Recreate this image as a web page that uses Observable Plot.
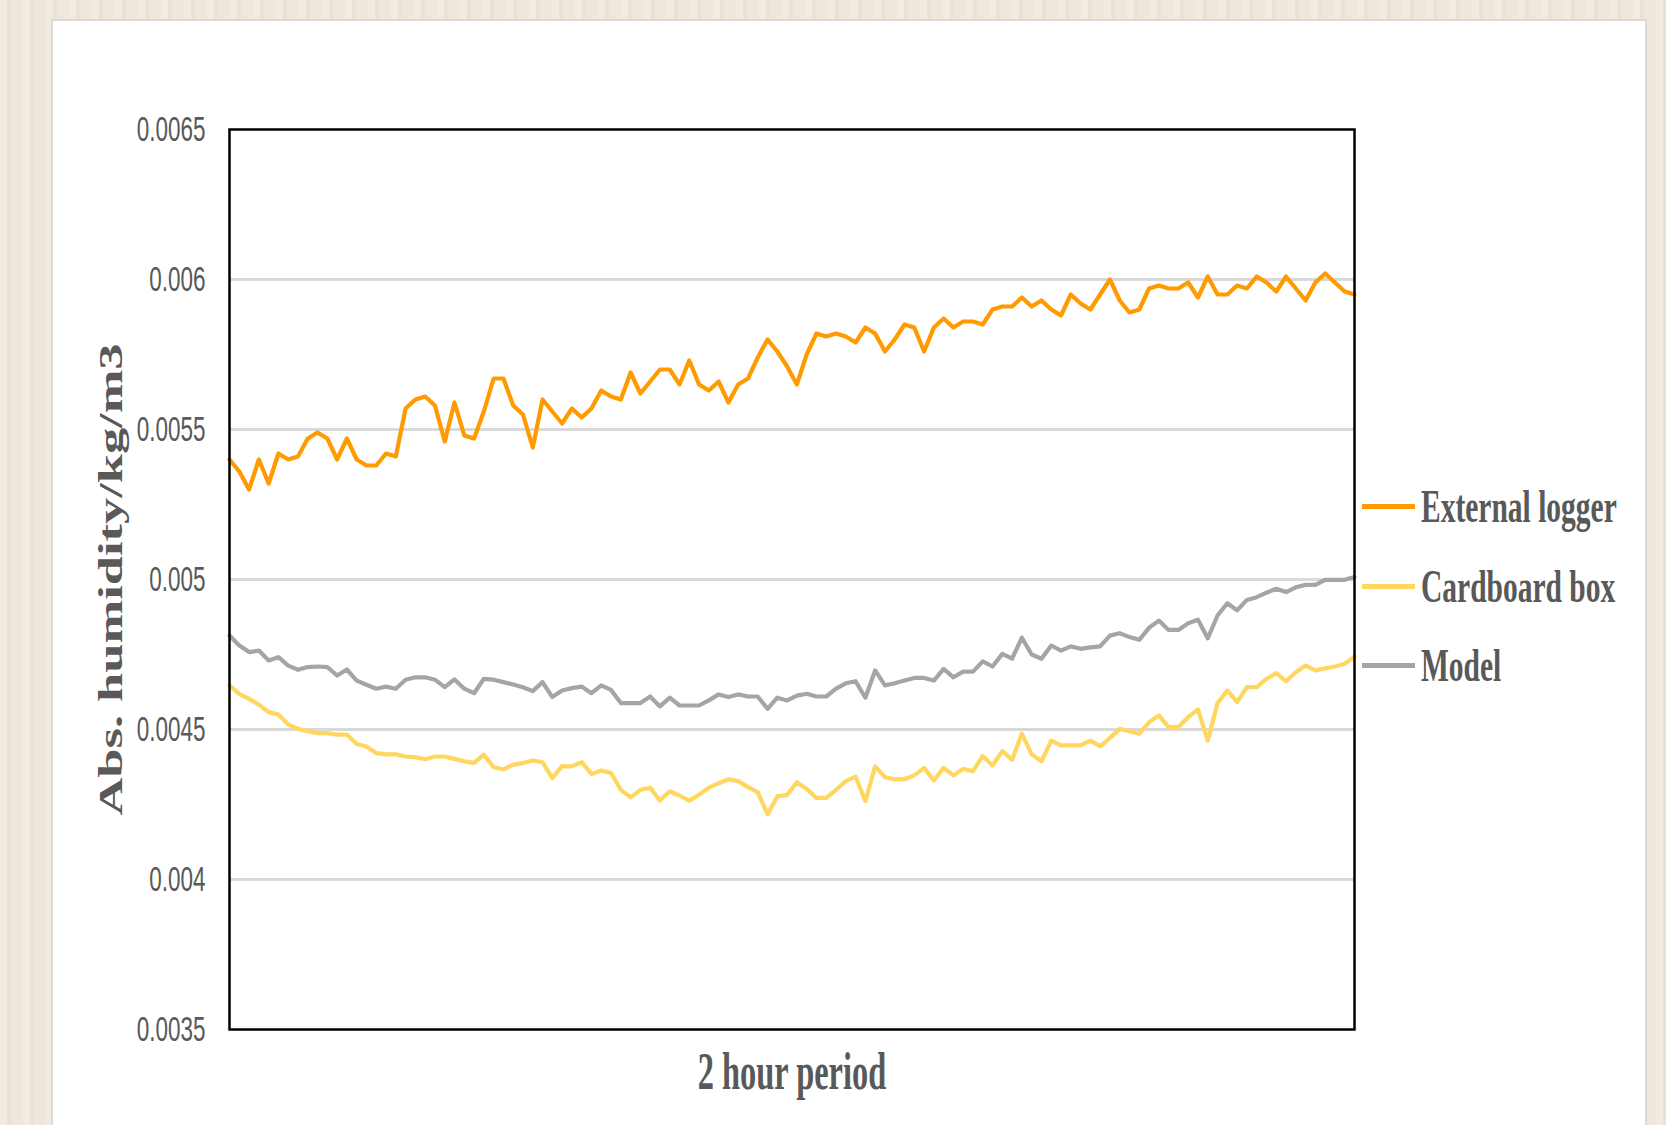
<!DOCTYPE html>
<html>
<head>
<meta charset="utf-8">
<script src="https://cdn.jsdelivr.net/npm/d3@7"></script>
<script src="https://cdn.jsdelivr.net/npm/@observablehq/plot@0.6"></script>
<style>
  html, body { margin: 0; padding: 0; }
  body {
    width: 1666px; height: 1125px; overflow: hidden; position: relative;
    background: #efe7dc;
    background-image:
      repeating-linear-gradient(90deg, rgba(255,255,255,0.18) 0px, rgba(255,255,255,0.18) 7px, rgba(190,180,168,0.10) 7px, rgba(190,180,168,0.10) 11px, rgba(255,255,255,0) 11px, rgba(255,255,255,0) 23px);
  }
  #panel {
    position: absolute; left: 51px; top: 19px; width: 1592px; height: 1120px;
    background: #ffffff; border: 2px solid #dadada;
  }
  #chart { position: absolute; left: 0; top: 0; }
  #legend {
    position: absolute; left: 1362px; top: 467px;
    font-family: "Liberation Serif", "Times New Roman", serif; font-weight: bold;
    font-size: 29.5px; color: #595959;
  }
  .row { display: flex; align-items: center; height: 79.5px; }
  .sw { width: 53px; height: 5px; margin-right: 6px; }
  .lb { display: inline-block; transform: scaleY(1.6); transform-origin: 50% 50%; white-space: nowrap; }
</style>
</head>
<body>
<div id="panel"></div>
<div id="chart"></div>
<div id="legend"></div>
<script>
// ---- data ----
const seriesNames = ["External logger", "Cardboard box", "Model"];
const seriesColors = ["#FF9A00", "#FFD75E", "#A5A5A5"];

const externalLogger = [
0.00540,0.00536,0.00530,0.00540,0.00532,0.00542,0.00540,0.00541,0.00547,0.00549,
0.00547,0.00540,0.00547,0.00540,0.00538,0.00538,0.00542,0.00541,0.00557,0.00560,
0.00561,0.00558,0.00546,0.00559,0.00548,0.00547,0.00556,0.00567,0.00567,0.00558,
0.00555,0.00544,0.00560,0.00556,0.00552,0.00557,0.00554,0.00557,0.00563,0.00561,
0.00560,0.00569,0.00562,0.00566,0.00570,0.00570,0.00565,0.00573,0.00565,0.00563,
0.00566,0.00559,0.00565,0.00567,0.00574,0.00580,0.00576,0.00571,0.00565,0.00575,
0.00582,0.00581,0.00582,0.00581,0.00579,0.00584,0.00582,0.00576,0.00580,0.00585,
0.00584,0.00576,0.00584,0.00587,0.00584,0.00586,0.00586,0.00585,0.00590,0.00591,
0.00591,0.00594,0.00591,0.00593,0.00590,0.00588,0.00595,0.00592,0.00590,0.00595,
0.00600,0.00593,0.00589,0.00590,0.00597,0.00598,0.00597,0.00597,0.00599,0.00594,
0.00601,0.00595,0.00595,0.00598,0.00597,0.00601,0.00599,0.00596,0.00601,0.00597,
0.00593,0.00599,0.00602,0.00599,0.00596,0.00595];

const cardboardBox = [
0.004647,0.004619,0.004602,0.004583,0.004558,0.004550,0.004517,0.004502,0.004494,0.004488,
0.004488,0.004483,0.004483,0.004452,0.004443,0.004421,0.004417,0.004417,0.004410,0.004408,
0.004401,0.004410,0.004410,0.004402,0.004394,0.004389,0.004416,0.004374,0.004367,0.004383,
0.004388,0.004397,0.004391,0.004338,0.004378,0.004377,0.004391,0.004352,0.004363,0.004355,
0.004299,0.004274,0.004299,0.004306,0.004263,0.004294,0.004280,0.004263,0.004283,0.004306,
0.004321,0.004334,0.004328,0.004308,0.004291,0.004217,0.004277,0.004282,0.004324,0.004302,
0.004272,0.004272,0.004299,0.004328,0.004343,0.004261,0.004377,0.004341,0.004334,0.004334,
0.004347,0.004372,0.004330,0.004372,0.004347,0.004369,0.004361,0.004412,0.004380,0.004428,
0.004399,0.004486,0.004417,0.004394,0.004463,0.004447,0.004447,0.004447,0.004463,0.004444,
0.004472,0.004502,0.004494,0.004486,0.004524,0.004547,0.004508,0.004508,0.004541,0.004567,
0.004463,0.004588,0.004630,0.004591,0.004641,0.004641,0.004669,0.004688,0.004661,0.004691,
0.004713,0.004697,0.004704,0.004710,0.004719,0.004743];

const model = [
0.004813,0.004780,0.004758,0.004763,0.004730,0.004741,0.004713,0.004699,0.004708,0.004710,
0.004708,0.004680,0.004700,0.004663,0.004649,0.004636,0.004643,0.004636,0.004666,0.004674,
0.004674,0.004666,0.004641,0.004667,0.004636,0.004621,0.004669,0.004666,0.004658,0.004650,
0.004641,0.004628,0.004658,0.004608,0.004630,0.004638,0.004643,0.004621,0.004647,0.004632,
0.004588,0.004588,0.004588,0.004610,0.004577,0.004606,0.004580,0.004580,0.004580,0.004597,
0.004617,0.004608,0.004617,0.004610,0.004610,0.004569,0.004606,0.004597,0.004613,0.004619,
0.004610,0.004610,0.004636,0.004654,0.004661,0.004606,0.004697,0.004647,0.004654,0.004663,
0.004672,0.004672,0.004663,0.004702,0.004674,0.004693,0.004693,0.004727,0.004710,0.004752,
0.004736,0.004806,0.004750,0.004736,0.004780,0.004763,0.004777,0.004769,0.004774,0.004777,
0.004813,0.004821,0.004808,0.004799,0.004839,0.004863,0.004832,0.004832,0.004854,0.004866,
0.004804,0.004880,0.004921,0.004897,0.004932,0.004941,0.004956,0.004969,0.004958,0.004974,
0.004982,0.004982,0.004999,0.004999,0.004999,0.005008];

const yTicks = [0.0035, 0.004, 0.0045, 0.005, 0.0055, 0.006, 0.0065];
const yTickLabels = ["0.0035", "0.004", "0.0045", "0.005", "0.0055", "0.006", "0.0065"];
const gridTicks = [0.004, 0.0045, 0.005, 0.0055, 0.006];
const yTitle = "Abs. humidity/kg/m3";
const xTitle = "2 hour period";

// ---- table for the library ----
const seriesValues = [externalLogger, cardboardBox, model];
const rows = [];
seriesNames.forEach((name, s) => {
  seriesValues[s].forEach((v, i) => rows.push({series: name, i, v}));
});

const chart = Plot.plot({
  width: 1666,
  height: 1125,
  marginLeft: 229,
  marginRight: 312,
  marginTop: 129,
  marginBottom: 96,
  style: {background: "transparent", fontFamily: "'Liberation Sans', Arial, sans-serif", fontSize: "22.5px"},
  x: {domain: [0, externalLogger.length - 1], axis: null},
  y: {domain: [0.0035, 0.0065]},
  color: {domain: seriesNames, range: seriesColors},
  marks: [
    Plot.gridY(gridTicks, {stroke: "#d9d9d9", strokeOpacity: 1, strokeWidth: 3}),
    Plot.axisY(yTicks, {tickSize: 0, tickPadding: 24, label: null,
      tickFormat: (d) => yTickLabels[yTicks.indexOf(d)]}),
    Plot.line(rows, {x: "i", y: "v", z: "series", stroke: "series", strokeWidth: 4.2, strokeLinejoin: "round"}),
    Plot.frame({stroke: "#000000", strokeWidth: 2.5}),
    Plot.text([yTitle], {text: (d) => d, frameAnchor: "left", textAnchor: "middle", lineAnchor: "middle",
      rotate: -90, dx: -118,
      fontFamily: "'Liberation Serif', 'Times New Roman', serif", fontWeight: "bold",
      fontSize: 33, fill: "#595959", letterSpacing: "0.5px"}),
    Plot.text([xTitle], {text: (d) => d, frameAnchor: "bottom", textAnchor: "middle", lineAnchor: "middle", dy: 43,
      fontFamily: "'Liberation Serif', 'Times New Roman', serif", fontWeight: "bold",
      fontSize: 32.4, fill: "#595959"})
  ]
});
document.getElementById("chart").appendChild(chart);

// vertical stretch of text to mimic the reference's tall, narrow lettering
const svg = d3.select(chart);
function stretch(sel, sx, sy) {
  sel.each(function () {
    const b = this.getBBox();
    const cx = b.x + b.width / 2, cy = b.y + b.height / 2;
    const t = this.getAttribute("transform") || "";
    this.setAttribute("transform", `${t} translate(${cx},${cy}) scale(${sx},${sy}) translate(${-cx},${-cy})`);
  });
}
const allText = svg.selectAll("text");
const tickTexts = allText.filter(function () { return yTickLabels.includes(this.textContent); });
tickTexts.attr("fill", "#595959");
stretch(tickTexts, 1, 1.55);
stretch(allText.filter(function () { return this.textContent === xTitle; }), 1, 1.6);
stretch(allText.filter(function () { return this.textContent === yTitle; }), 1.59, 1);

// legend
const legend = d3.select("#legend");
seriesNames.forEach((name, s) => {
  const row = legend.append("div").attr("class", "row");
  row.append("div").attr("class", "sw").style("background", seriesColors[s]);
  row.append("span").attr("class", "lb").text(name);
});
</script>
</body>
</html>
